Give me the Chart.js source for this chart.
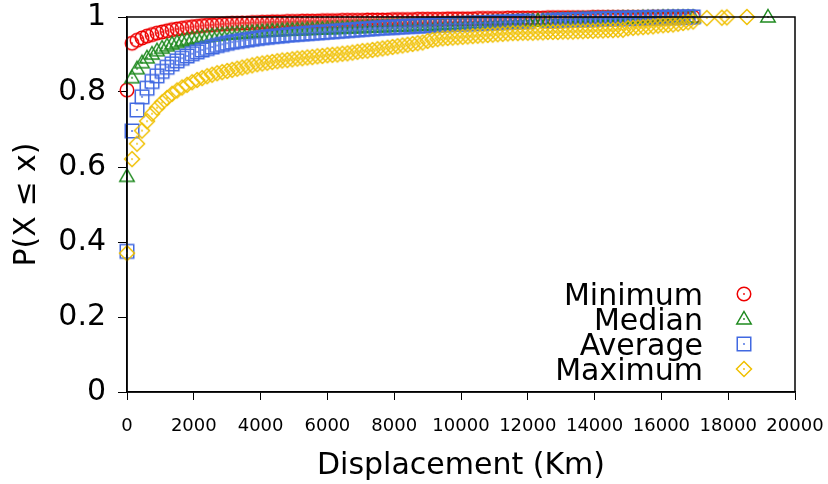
<!DOCTYPE html>
<html>
<head>
<meta charset="utf-8">
<script src="https://cdn.jsdelivr.net/npm/chart.js@4"></script>
<style>
  html, body { margin: 0; padding: 0; background: #fff; }
  #wrap { width: 828px; height: 484px; }
</style>
</head>
<body>
<div id="wrap"><canvas id="cdf" width="828" height="484"></canvas></div>
<script>
// Displacement bins (km) at which the empirical CDFs are sampled
const distances = [
  0, 150, 300, 450, 600, 750, 900, 1050, 1200, 1350,
  1500, 1650, 1800, 1950, 2100, 2250, 2400, 2550, 2700, 2850,
  3000, 3150, 3300, 3450, 3600, 3750, 3900, 4050, 4200, 4350,
  4500, 4650, 4800, 4950, 5100, 5250, 5400, 5550, 5700, 5850,
  6000, 6150, 6300, 6450, 6600, 6750, 6900, 7050, 7200, 7350,
  7500, 7650, 7800, 7950, 8100, 8250, 8400, 8550, 8700, 8850,
  9000, 9150, 9300, 9450, 9600, 9750, 9900, 10050, 10200, 10350,
  10500, 10650, 10800, 10950, 11100, 11250, 11400, 11550, 11700, 11850,
  12000, 12150, 12300, 12450, 12600, 12750, 12900, 13050, 13200, 13350,
  13500, 13650, 13800, 13950, 14100, 14250, 14400, 14550, 14700, 14850,
  15000, 15150, 15300, 15450, 15600, 15750, 15900, 16050, 16200, 16350,
  16500, 16650, 16800, 16950,
  17360, 17810, 17960, 18560, 19190
];

// P(X <= x) for the minimum displacement
const minimumCdf = [
  0.805, 0.930, 0.938, 0.944, 0.949, 0.953, 0.957, 0.960, 0.963, 0.966,
  0.968, 0.970, 0.972, 0.974, 0.975, 0.977, 0.978, 0.979, 0.980, 0.981,
  0.982, 0.983, 0.983, 0.984, 0.984, 0.985, 0.985, 0.986, 0.986, 0.987,
  0.987, 0.987, 0.988, 0.988, 0.988, 0.989, 0.989, 0.989, 0.989, 0.990,
  0.990, 0.990, 0.990, 0.991, 0.991, 0.991, 0.991, 0.991, 0.992, 0.992,
  0.992, 0.992, 0.992, 0.993, 0.993, 0.993, 0.993, 0.993, 0.994, 0.994,
  0.994, 0.994, 0.994, 0.994, 0.995, 0.995, 0.995, 0.995, 0.995, 0.995,
  0.996, 0.996, 0.996, 0.996, 0.996, 0.996, 0.997, 0.997, 0.997, 0.997,
  0.997, 0.997, 0.997, 0.997, 0.998, 0.998, 0.998, 0.998, 0.998, 0.998,
  0.998, 0.998, 0.998, 0.999, 0.999, 0.999, 0.999, 0.999, 0.999, 0.999,
  0.999, 0.999, 0.999, 0.999, 0.999, 1, 1, 1, 1, 1,
  1, 1, 1, 1,
  null, null, null, null, null
];

// P(X <= x) for the median displacement
const medianCdf = [
  0.575, 0.838, 0.862, 0.878, 0.891, 0.901, 0.910, 0.917, 0.923, 0.928,
  0.932, 0.936, 0.939, 0.942, 0.944, 0.946, 0.948, 0.950, 0.951, 0.953,
  0.954, 0.955, 0.956, 0.957, 0.958, 0.959, 0.960, 0.961, 0.962, 0.963,
  0.963, 0.964, 0.965, 0.965, 0.966, 0.966, 0.967, 0.967, 0.968, 0.968,
  0.969, 0.969, 0.970, 0.970, 0.971, 0.971, 0.972, 0.972, 0.973, 0.973,
  0.974, 0.974, 0.975, 0.975, 0.976, 0.976, 0.977, 0.977, 0.978, 0.978,
  0.979, 0.979, 0.980, 0.980, 0.981, 0.981, 0.982, 0.982, 0.983, 0.983,
  0.984, 0.984, 0.985, 0.985, 0.986, 0.986, 0.987, 0.987, 0.988, 0.988,
  0.989, 0.989, 0.990, 0.990, 0.991, 0.991, 0.992, 0.992, 0.993, 0.993,
  0.994, 0.994, 0.994, 0.995, 0.995, 0.995, 0.996, 0.996, 0.996, 0.997,
  0.997, 0.997, 0.997, 0.998, 0.998, 0.998, 0.998, 0.999, 0.999, 0.999,
  0.999, 0.999, 0.999, 0.999,
  null, null, null, null, 1
];

// P(X <= x) for the average displacement
const averageCdf = [
  0.375, 0.696, 0.752, 0.787, 0.810, 0.828, 0.843, 0.855, 0.866, 0.875,
  0.883, 0.890, 0.896, 0.902, 0.907, 0.912, 0.916, 0.920, 0.924, 0.927,
  0.930, 0.933, 0.935, 0.937, 0.939, 0.941, 0.943, 0.945, 0.946, 0.948,
  0.949, 0.950, 0.952, 0.953, 0.954, 0.955, 0.956, 0.957, 0.958, 0.959,
  0.960, 0.961, 0.962, 0.963, 0.964, 0.965, 0.966, 0.967, 0.968, 0.969,
  0.970, 0.971, 0.972, 0.972, 0.973, 0.974, 0.975, 0.975, 0.976, 0.977,
  0.977, 0.978, 0.979, 0.979, 0.980, 0.981, 0.981, 0.982, 0.982, 0.983,
  0.983, 0.984, 0.984, 0.985, 0.985, 0.986, 0.986, 0.987, 0.987, 0.988,
  0.988, null, null, null, 0.990, 0.990, 0.991, 0.991, 0.992, 0.992,
  0.993, 0.993, 0.993, 0.994, 0.994, 0.995, 0.995, 0.995, 0.996, 0.996,
  0.996, 0.997, 0.997, 0.997, 0.998, 0.998, 0.998, 0.998, 0.999, 0.999,
  0.999, 0.999, 1, 1,
  null, null, null, null, null
];

// P(X <= x) for the maximum displacement
const maximumCdf = [
  0.370, 0.621, 0.662, 0.697, 0.722, 0.742, 0.758, 0.772, 0.784, 0.795,
  0.804, 0.812, 0.819, 0.826, 0.832, 0.837, 0.842, 0.846, 0.850, 0.853,
  0.856, 0.859, 0.862, 0.865, 0.868, 0.871, 0.874, 0.876, 0.878, 0.880,
  0.882, 0.884, 0.885, 0.887, 0.889, 0.890, 0.892, 0.893, 0.895, 0.896,
  0.898, 0.899, 0.900, 0.902, 0.903, 0.905, 0.907, 0.909, 0.910, 0.912,
  0.914, 0.916, 0.918, 0.920, 0.922, 0.924, 0.926, 0.928, 0.930, 0.932,
  0.936, 0.939, 0.941, 0.943, 0.944, 0.945, 0.946, 0.947, 0.948, 0.949,
  0.950, 0.951, 0.952, 0.953, 0.954, 0.955, 0.956, 0.957, 0.957, 0.958,
  0.958, 0.958, 0.959, 0.959, 0.960, 0.960, 0.960, 0.961, 0.961, 0.961,
  0.962, 0.962, 0.963, 0.963, 0.964, 0.964, 0.965, 0.965, 0.966, 0.966,
  0.970, 0.971, 0.972, 0.973, 0.974, 0.975, 0.977, 0.978, 0.979, 0.980,
  0.982, 0.984, 0.986, 0.988,
  0.997, 0.998, 0.999, 1, null
];

const seriesNames = ['Minimum', 'Median', 'Average', 'Maximum'];
const seriesValues = [minimumCdf, medianCdf, averageCdf, maximumCdf];
const seriesColors = ['#ee0000', '#1f8a1f', '#4169e1', '#f0c000'];
const seriesShapes = ['circle', 'triangle', 'square', 'diamond'];

const xTickValues = [0, 2000, 4000, 6000, 8000, 10000, 12000, 14000, 16000, 18000, 20000];
const yTickValues = [0, 0.2, 0.4, 0.6, 0.8, 1];

const FONT = "'DejaVu Sans', 'Liberation Sans', sans-serif";

// Open marker with a dot in its centre
function makeMarker(shape, color) {
  const size = 20, m = size / 2;
  const cv = document.createElement('canvas');
  cv.width = size; cv.height = size;
  const g = cv.getContext('2d');
  g.strokeStyle = color;
  g.fillStyle = color;
  g.lineWidth = 1.5;
  g.beginPath();
  if (shape === 'circle') {
    g.arc(m, m, 6.75, 0, Math.PI * 2);
  } else if (shape === 'triangle') {
    g.moveTo(m, m - 7.5);
    g.lineTo(m + 7.2, m + 5);
    g.lineTo(m - 7.2, m + 5);
    g.closePath();
  } else if (shape === 'square') {
    g.rect(m - 6.75, m - 6.75, 13.5, 13.5);
  } else {
    g.moveTo(m, m - 7.5);
    g.lineTo(m + 7.5, m);
    g.lineTo(m, m + 7.5);
    g.lineTo(m - 7.5, m);
    g.closePath();
  }
  g.stroke();
  g.beginPath();
  g.arc(m, m, 0.9, 0, Math.PI * 2);
  g.fill();
  return cv;
}

const markers = seriesShapes.map((s, i) => makeMarker(s, seriesColors[i]));

const datasets = seriesNames.map((name, i) => ({
  label: name,
  data: distances
    .map((x, k) => ({ x: x, y: seriesValues[i][k] }))
    .filter(p => p.y !== null),
  pointStyle: markers[i],
  pointRadius: 7,
  pointHoverRadius: 7,
  showLine: false,
  clip: false,
  order: seriesNames.length - i
}));

// Closed frame around the plotting area
const framePlugin = {
  id: 'frame',
  afterDatasetsDraw(chart) {
    const a = chart.chartArea, ctx = chart.ctx;
    ctx.save();
    ctx.strokeStyle = '#000';
    ctx.lineWidth = 1.5;
    ctx.strokeRect(a.left, a.top, a.right - a.left, a.bottom - a.top);
    ctx.restore();
  }
};

// Key in the lower right corner: right-aligned names, marker to the right
const keyPlugin = {
  id: 'key',
  afterDraw(chart) {
    const ctx = chart.ctx;
    ctx.save();
    ctx.font = '30px ' + FONT;
    ctx.fillStyle = '#000';
    ctx.textAlign = 'right';
    ctx.textBaseline = 'alphabetic';
    seriesNames.forEach((name, i) => {
      const yc = 294 + i * 25;
      ctx.fillText(name, 703, yc + 11);
      const mk = markers[i];
      ctx.drawImage(mk, 744 - mk.width / 2, yc - mk.height / 2);
    });
    ctx.restore();
  }
};

new Chart(document.getElementById('cdf'), {
  type: 'scatter',
  data: { datasets: datasets },
  plugins: [framePlugin, keyPlugin],
  options: {
    responsive: false,
    animation: false,
    devicePixelRatio: 1,
    layout: { padding: { top: 17, right: 33, left: 0, bottom: 0 } },
    plugins: { legend: { display: false }, tooltip: { enabled: false } },
    scales: {
      x: {
        type: 'linear',
        min: 0,
        max: 20000,
        afterBuildTicks: s => { s.ticks = xTickValues.map(v => ({ value: v })); },
        afterFit: s => { s.height = 92; s.paddingLeft = 0; s.paddingRight = 0; },
        ticks: {
          autoSkip: false,
          maxRotation: 0,
          padding: 16,
          color: '#000',
          font: { family: FONT, size: 18 },
          callback: v => String(v)
        },
        grid: { drawOnChartArea: false, drawTicks: true, tickLength: 8, color: '#000', lineWidth: 1 },
        border: { display: true, color: '#000', width: 1.5 },
        title: {
          display: true,
          text: 'Displacement (Km)',
          color: '#000',
          font: { family: FONT, size: 30 },
          padding: { top: 0, bottom: 0 }
        }
      },
      y: {
        type: 'linear',
        min: 0,
        max: 1,
        afterBuildTicks: s => { s.ticks = yTickValues.map(v => ({ value: v })); },
        afterFit: s => { s.width = 127; s.paddingTop = 0; s.paddingBottom = 0; },
        ticks: {
          padding: 12,
          color: '#000',
          font: { family: FONT, size: 30 },
          callback: v => String(v)
        },
        grid: { drawOnChartArea: false, drawTicks: true, tickLength: 9, color: '#000', lineWidth: 1 },
        border: { display: true, color: '#000', width: 1.5 },
        title: {
          display: true,
          text: 'P(X ≤ x)',
          color: '#000',
          font: { family: FONT, size: 30 },
          padding: { top: 9, bottom: 0 }
        }
      }
    }
  }
});
</script>
</body>
</html>
